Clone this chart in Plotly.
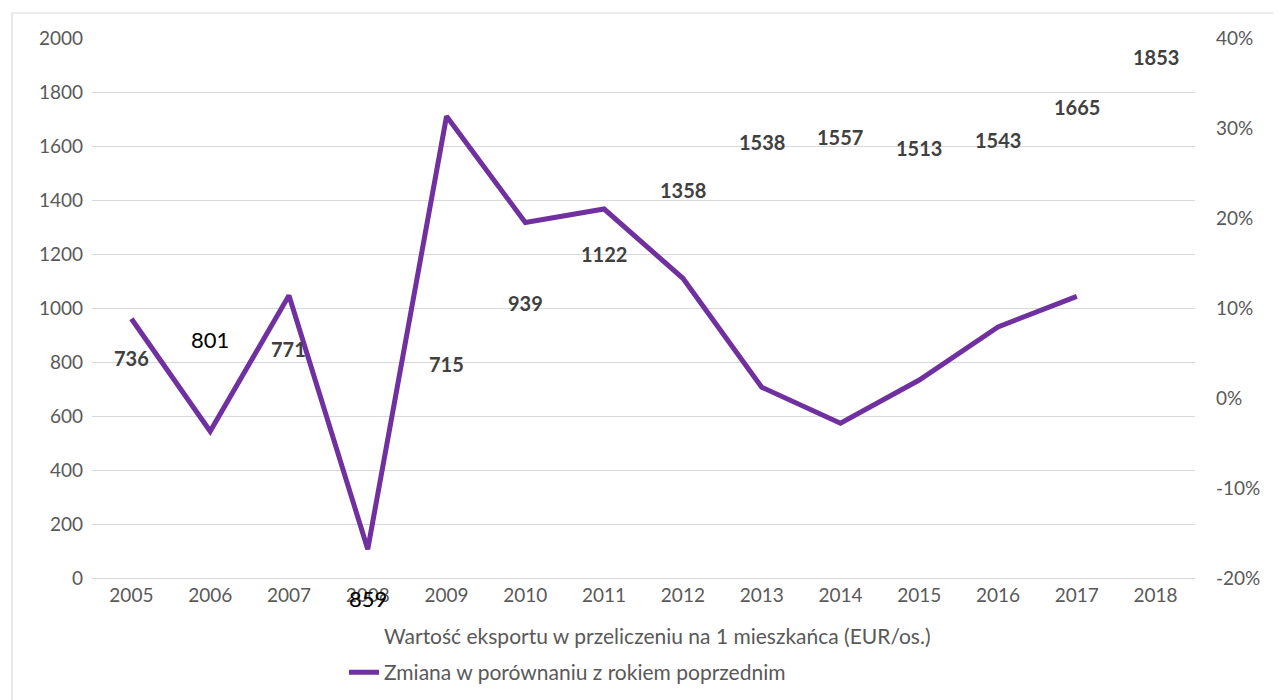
import plotly.graph_objects as go

years = ["2005", "2006", "2007", "2008", "2009", "2010", "2011", "2012",
         "2013", "2014", "2015", "2016", "2017", "2018"]
export_values = [736, 801, 771, 859, 715, 939, 1122, 1358, 1538, 1557, 1513, 1543, 1665, 1853]
change_pct = [8.8, -3.7, 11.4, -16.8, 31.3, 19.5, 21.0, 13.3, 1.2, -2.8, 2.0, 7.9, 11.3, None]
pct_tickvals = [-0.2, -0.1, 0.0, 0.1, 0.2, 0.3, 0.4]
pct_ticktext = ["-20%", "-10%", "0%", "10%", "20%", "30%", "40%"]

name_export = "Wartość eksportu w przeliczeniu na 1 mieszkańca (EUR/os.)"
name_change = "Zmiana w porównaniu z rokiem poprzednim"

FONT = "Lato, 'Open Sans', sans-serif"
GRID = "#d9d9d9"
TICK = "#595959"
PURPLE = "#7030a0"

fig = go.Figure()
fig.add_trace(go.Bar(
    x=years, y=export_values, name=name_export,
    marker=dict(color="rgba(0,0,0,0)", line=dict(width=0)),
    yaxis="y", showlegend=True, hoverinfo="x+y", legendgroup="a",
))
fig.add_trace(go.Scatter(
    x=years, y=[None if v is None else v / 100 for v in change_pct],
    name=name_change, mode="lines", yaxis="y2", legendgroup="b",
    line=dict(color=PURPLE, width=5),
))

# data labels for the export values (x given as category index)
for i, (yr, v) in enumerate(zip(years, export_values)):
    if yr == "2008":
        fig.add_annotation(x=i, y=0, xref="x", yref="y", text=str(v), showarrow=False,
                           yshift=-20, yanchor="middle",
                           font=dict(family=FONT, size=22, color="#000000"))
    elif yr == "2006":
        fig.add_annotation(x=i, y=v, xref="x", yref="y", text=str(v), showarrow=False,
                           yshift=22, yanchor="middle",
                           font=dict(family=FONT, size=22, color="#000000"))
    else:
        fig.add_annotation(x=i, y=v, xref="x", yref="y", text="<b>%d</b>" % v, showarrow=False,
                           yshift=21, yanchor="middle",
                           font=dict(family=FONT, size=20, color="#404040"))

# outer chart border
fig.add_shape(type="rect", xref="paper", yref="paper",
              x0=-0.0725, x1=1.2, y0=-0.3, y1=1.0463,
              line=dict(color="#d9d9d9", width=1.2), fillcolor="rgba(0,0,0,0)", layer="below")

fig.update_layout(
    width=1281, height=700,
    margin=dict(l=84, r=94, t=30, b=130),
    paper_bgcolor="white", plot_bgcolor="white",
    font=dict(family=FONT, size=19, color=TICK),
    bargap=0.5,
    xaxis=dict(type="category", range=[-0.5, 13.5], showgrid=False,
               showline=True, linecolor=GRID, linewidth=1.3, ticks="",
               tickfont=dict(family=FONT, size=19, color=TICK)),
    yaxis=dict(range=[0, 2000], dtick=200, showgrid=True, gridcolor=GRID, gridwidth=1.3,
               zeroline=False, showline=False, ticks="", ticklabelstandoff=8,
               tickfont=dict(family=FONT, size=19, color=TICK)),
    yaxis2=dict(range=[-0.2, 0.4], tickvals=pct_tickvals, ticktext=pct_ticktext,
                overlaying="y", side="right",
                showgrid=False, zeroline=False, showline=False, ticks="", ticklabelstandoff=20,
                tickfont=dict(family=FONT, size=19, color=TICK)),
    legend=dict(orientation="v", x=(344 - 92) / 1103, xanchor="left",
                y=-0.07, yanchor="top", bgcolor="rgba(0,0,0,0)",
                font=dict(family=FONT, size=21, color=TICK),
                traceorder="grouped", tracegroupgap=6, itemwidth=30),
    showlegend=True,
)

fig.write_html("out.html")
